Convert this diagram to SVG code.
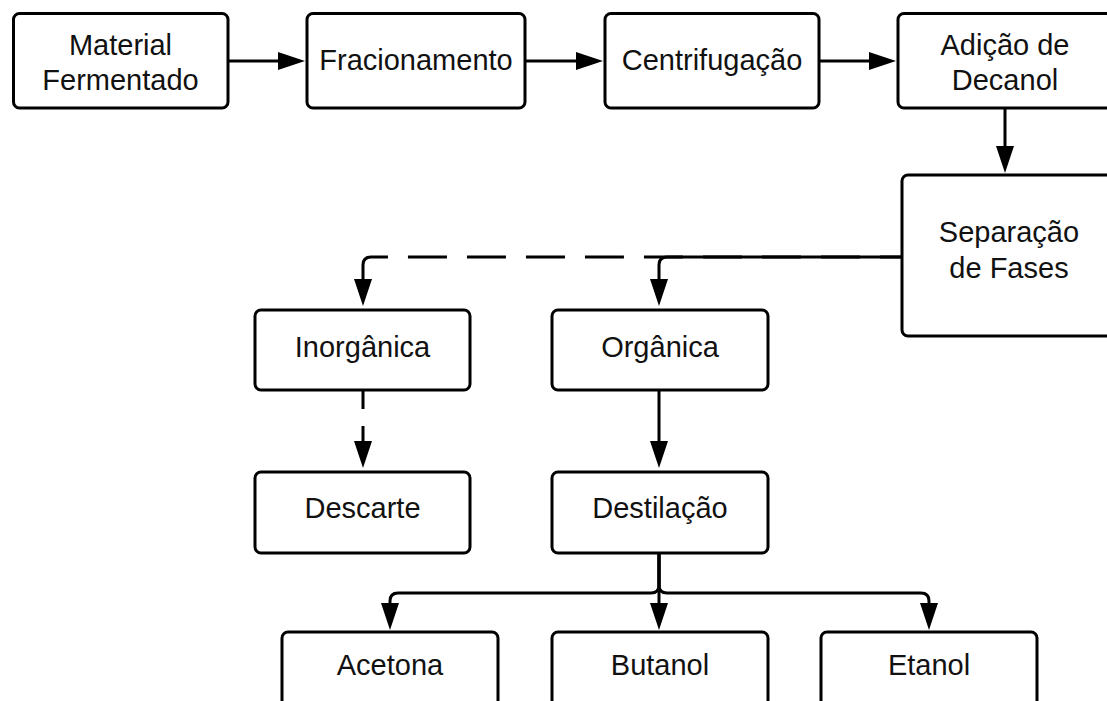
<svg xmlns="http://www.w3.org/2000/svg" width="1107" height="701" viewBox="0 0 1107 701">
  <style>
    .box { fill: #ffffff; stroke: #000000; stroke-width: 3; }
    .lbl { font-family: "Liberation Sans", Arial, sans-serif; font-size: 29px; fill: #111111; text-anchor: middle; }
    .edge { fill: none; stroke: #000000; stroke-width: 3; }
  </style>
  <defs>
    <marker id="arrow" markerUnits="userSpaceOnUse" markerWidth="27" markerHeight="18" refX="7" refY="9" orient="auto-start-reverse">
      <path d="M0,0 L27,9 L0,18 Z" fill="#000000"/>
    </marker>
  </defs>
  <rect width="1107" height="701" fill="#ffffff"/>

  <g id="connectors">
    <path class="edge" d="M228,61 H285" marker-end="url(#arrow)"/>
    <path class="edge" d="M525,61 H583" marker-end="url(#arrow)"/>
    <path class="edge" d="M819,61 H876" marker-end="url(#arrow)"/>
    <path class="edge" d="M1005,108 V153" marker-end="url(#arrow)"/>
    <!-- phase separation: organic (solid) and inorganic (dashed) -->
    <path class="edge" d="M363,286 V265 Q363,257 371,257 H902" stroke-dasharray="50.6 20 39 20 39 20 39 20 39 20 39 20 39 20 39 20 39 20 39 20" marker-start="url(#arrow)"/>
    <path class="edge" d="M902,257 H667 Q659,257 659,265 V286" marker-end="url(#arrow)"/>
    <path class="edge" d="M363,391 V448" stroke-dasharray="18 17 40" marker-end="url(#arrow)"/>
    <path class="edge" d="M659,391 V448" marker-end="url(#arrow)"/>
    <!-- distillation products -->
    <path class="edge" d="M659,553 V585 Q659,593 651,593 H398 Q390,593 390,601 V610" marker-end="url(#arrow)"/>
    <path class="edge" d="M659,553 V610" marker-end="url(#arrow)"/>
    <path class="edge" d="M659,553 V585 Q659,593 667,593 H921 Q929,593 929,601 V610" marker-end="url(#arrow)"/>
  </g>

  <g id="material-fermentado">
    <rect class="box" x="13.5" y="13.5" width="214.5" height="94.5" rx="6"/>
    <text class="lbl" x="120.5" y="55">Material</text>
    <text class="lbl" x="120.5" y="90">Fermentado</text>
  </g>
  <g id="fracionamento">
    <rect class="box" x="307" y="13.5" width="218" height="94.5" rx="6"/>
    <text class="lbl" x="416" y="70">Fracionamento</text>
  </g>
  <g id="centrifugacao">
    <rect class="box" x="605" y="13.5" width="214" height="94.5" rx="6"/>
    <text class="lbl" x="712" y="70">Centrifugação</text>
  </g>
  <g id="adicao-decanol">
    <rect class="box" x="898" y="13.5" width="215" height="94.5" rx="6"/>
    <text class="lbl" x="1005" y="55">Adição de</text>
    <text class="lbl" x="1005" y="90">Decanol</text>
  </g>
  <g id="separacao-fases">
    <rect class="box" x="902" y="175" width="214" height="161" rx="6"/>
    <text class="lbl" x="1009" y="242">Separação</text>
    <text class="lbl" x="1009" y="278">de Fases</text>
  </g>
  <g id="inorganica">
    <rect class="box" x="255" y="310" width="215" height="80" rx="6"/>
    <text class="lbl" x="362.5" y="357">Inorgânica</text>
  </g>
  <g id="organica">
    <rect class="box" x="552" y="310" width="216" height="80" rx="6"/>
    <text class="lbl" x="660" y="357">Orgânica</text>
  </g>
  <g id="descarte">
    <rect class="box" x="255" y="472" width="215" height="81" rx="6"/>
    <text class="lbl" x="362.5" y="518">Descarte</text>
  </g>
  <g id="destilacao">
    <rect class="box" x="552" y="472" width="216" height="81" rx="6"/>
    <text class="lbl" x="660" y="518">Destilação</text>
  </g>
  <g id="acetona">
    <rect class="box" x="282" y="632" width="216" height="90" rx="6"/>
    <text class="lbl" x="390" y="675">Acetona</text>
  </g>
  <g id="butanol">
    <rect class="box" x="552" y="632" width="216" height="90" rx="6"/>
    <text class="lbl" x="660" y="675">Butanol</text>
  </g>
  <g id="etanol">
    <rect class="box" x="821" y="632" width="216" height="90" rx="6"/>
    <text class="lbl" x="929" y="675">Etanol</text>
  </g>
</svg>
